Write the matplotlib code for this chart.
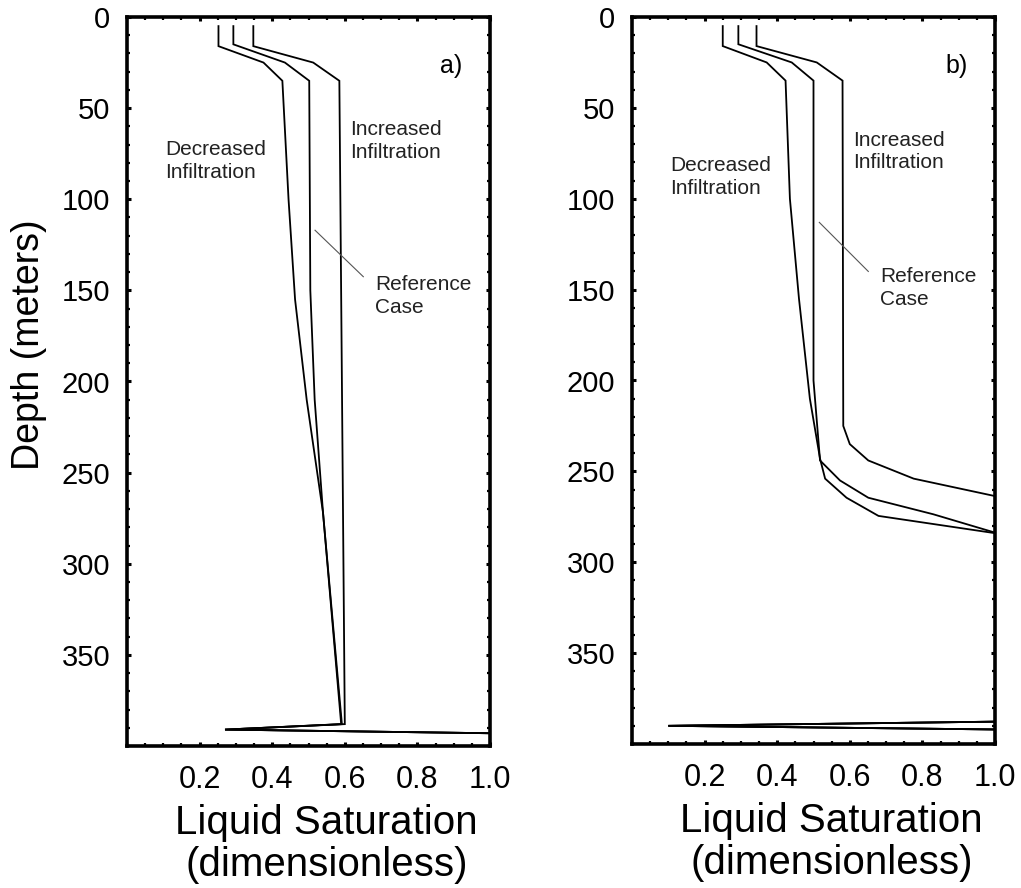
"""Liquid saturation profiles vs depth for three infiltration cases."""
import matplotlib
matplotlib.use("Agg")
import matplotlib.pyplot as plt
from matplotlib.ticker import MultipleLocator

plt.rcParams['font.family'] = ['Liberation Sans', 'DejaVu Sans']

# a) depth (m) and liquid saturation
dec_a_depth = [5, 16, 25, 35, 100, 155, 210, 272, 388, 391, 393]
dec_a_sat = [0.252, 0.252, 0.376, 0.428, 0.445, 0.463, 0.495, 0.54, 0.59, 0.27, 1.0]
ref_a_depth = [5, 15, 25, 35, 150, 210, 272, 388, 391, 393]
ref_a_sat = [0.293, 0.293, 0.435, 0.502, 0.505, 0.517, 0.54, 0.592, 0.27, 1.0]
inc_a_depth = [5, 16, 25, 35, 388, 391, 393]
inc_a_sat = [0.348, 0.348, 0.513, 0.585, 0.60, 0.27, 1.0]

# b) depth (m) and liquid saturation
dec_b_depth = [5, 16, 25, 35, 100, 155, 210, 243, 254, 264.5, 274.5, 284, 387.7, 390, 392]
dec_b_sat = [0.25, 0.25, 0.371, 0.423, 0.435, 0.46, 0.49, 0.518, 0.532, 0.591, 0.679, 1.0, 1.0, 0.1, 1.0]
ref_b_depth = [5, 15, 25, 35, 200, 244, 255, 264.5, 273.6, 283.7, 387.7, 390, 392]
ref_b_sat = [0.293, 0.293, 0.44, 0.5, 0.5, 0.518, 0.573, 0.651, 0.83, 1.0, 1.0, 0.1, 1.0]
inc_b_depth = [5, 16, 25, 35, 225, 235, 244, 254, 263.6, 387.7, 390, 392]
inc_b_sat = [0.343, 0.343, 0.509, 0.58, 0.582, 0.60, 0.651, 0.776, 1.0, 1.0, 0.1, 1.0]

depth_ticks = [0, 50, 100, 150, 200, 250, 300, 350]
sat_ticks = [0.2, 0.4, 0.6, 0.8, 1.0]
sat_ticklabels = ['0.2', '0.4', '0.6', '0.8', '1.0']

fig = plt.figure(figsize=(10.21, 8.88), dpi=100)
ax1 = fig.add_axes([127/1021, 142/888, 363/1021, 729/888])
ax2 = fig.add_axes([632/1021, 144/888, 363/1021, 727/888])

panels = [
    (ax1, (dec_a_sat, dec_a_depth), (ref_a_sat, ref_a_depth), (inc_a_sat, inc_a_depth),
     'a)', (0.105, 79), (0.614, 68), (0.683, 153), [(0.518, 0.651), (117, 142.5)]),
    (ax2, (dec_b_sat, dec_b_depth), (ref_b_sat, ref_b_depth), (inc_b_sat, inc_b_depth),
     'b)', (0.105, 88), (0.609, 74), (0.683, 149), [(0.516, 0.651), (113, 140)]),
]

for ax, dec, ref, inc, tag, dec_xy, inc_xy, ref_xy, pointer in panels:
    for sat, depth in (dec, ref, inc):
        ax.plot(sat, depth, color='black', lw=1.3, solid_joinstyle='miter')
    ax.plot(pointer[0], pointer[1], color='#555555', lw=0.8)

    ax.text(dec_xy[0], dec_xy[1], 'Decreased\nInfiltration', fontsize=15,
            va='center', ha='left', linespacing=1.25, color='#222222')
    ax.text(inc_xy[0], inc_xy[1], 'Increased\nInfiltration', fontsize=15,
            va='center', ha='left', linespacing=1.25, color='#222222')
    ax.text(ref_xy[0], ref_xy[1], 'Reference\nCase', fontsize=15,
            va='center', ha='left', linespacing=1.25, color='#222222')
    ax.text(0.893, 27, tag, fontsize=18, va='center', ha='center')

    ax.set_xlim(0, 1.0)
    ax.set_ylim(400, 0)
    ax.set_yticks(depth_ticks)
    ax.set_xticks(sat_ticks)
    ax.set_xticklabels(sat_ticklabels)
    ax.xaxis.set_minor_locator(MultipleLocator(0.05))
    ax.yaxis.set_minor_locator(MultipleLocator(10))
    ax.tick_params(which='major', direction='in', length=3, width=2.2,
                   top=True, right=True, labelsize=21, pad=12)
    ax.tick_params(which='minor', direction='in', length=2, width=1.6,
                   top=True, right=True)
    ax.tick_params(axis='x', labelsize=22, pad=14)
    for sp in ax.spines.values():
        sp.set_linewidth(2.6)
    ax.set_xlabel('Liquid Saturation\n(dimensionless)', fontsize=29,
                  linespacing=1.15, labelpad=6)
    ax.xaxis.label.set_x(0.55)

ax1.set_ylabel('Depth (meters)', fontsize=27)
ax1.yaxis.set_label_coords(-0.22, 0.55)

fig.savefig('out.png', dpi=100)
